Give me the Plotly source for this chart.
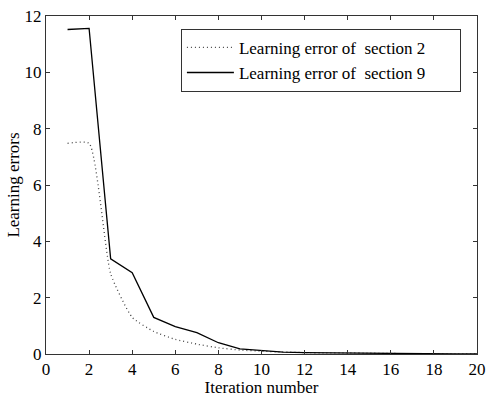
import plotly.graph_objects as go

iterations = list(range(1, 21))
err_section2 = [7.48, 7.48, 2.85, 1.30, 0.80, 0.52, 0.35, 0.22, 0.14, 0.10,
                0.07, 0.05, 0.04, 0.04, 0.03, 0.02, 0.01, 0.0, 0.0, 0.0]
err_section9 = [11.52, 11.56, 3.38, 2.89, 1.30, 0.97, 0.76, 0.40, 0.18, 0.13,
                0.07, 0.05, 0.04, 0.04, 0.03, 0.02, 0.01, 0.0, 0.0, 0.0]
x_ticks = list(range(0, 21, 2))
y_ticks = list(range(0, 13, 2))

FONT = "Liberation Serif"
FS = 17
PAD = "\u2003\u2002\u2009"  # trailing blank space to widen the legend frame

fig = go.Figure()
fig.add_trace(go.Scatter(
    x=iterations, y=err_section2, mode="lines",
    name="Learning error of\u00a0 section 2" + PAD,
    line=dict(color="#444444", width=1.3, dash="1px,3px", shape="spline", smoothing=0.5),
))
fig.add_trace(go.Scatter(
    x=iterations, y=err_section9, mode="lines",
    name="Learning error of\u00a0 section 9" + PAD,
    line=dict(color="black", width=1.3),
))

axis_common = dict(
    showline=True, linecolor="#333333", linewidth=1, mirror="ticks",
    ticks="inside", ticklen=4, tickcolor="#333333", showgrid=False, zeroline=False,
    tickfont=dict(family=FONT, size=FS, color="black"),
    ticklabeloverflow="allow",
)
fig.update_xaxes(range=[0, 20], tickvals=x_ticks,
                 title=dict(text="Iteration number", font=dict(family=FONT, size=FS, color="black"), standoff=2),
                 **axis_common)
fig.update_yaxes(range=[0, 12], tickvals=y_ticks,
                 title=dict(text="Learning errors", font=dict(family=FONT, size=FS, color="black"), standoff=0),
                 **axis_common)

fig.update_layout(
    width=486, height=397,
    margin=dict(l=46, r=9, t=16, b=43, autoexpand=False),
    paper_bgcolor="white", plot_bgcolor="white",
    font=dict(family=FONT, size=FS, color="black"),
    legend=dict(x=0.313, y=0.962, xanchor="left", yanchor="top",
                bordercolor="#333333", borderwidth=1, bgcolor="white",
                font=dict(family=FONT, size=FS, color="black"),
                tracegroupgap=0, itemwidth=47),
)

fig.write_html("out.html", config={"displayModeBar": False},
               post_script="document.body.style.margin='0';")
